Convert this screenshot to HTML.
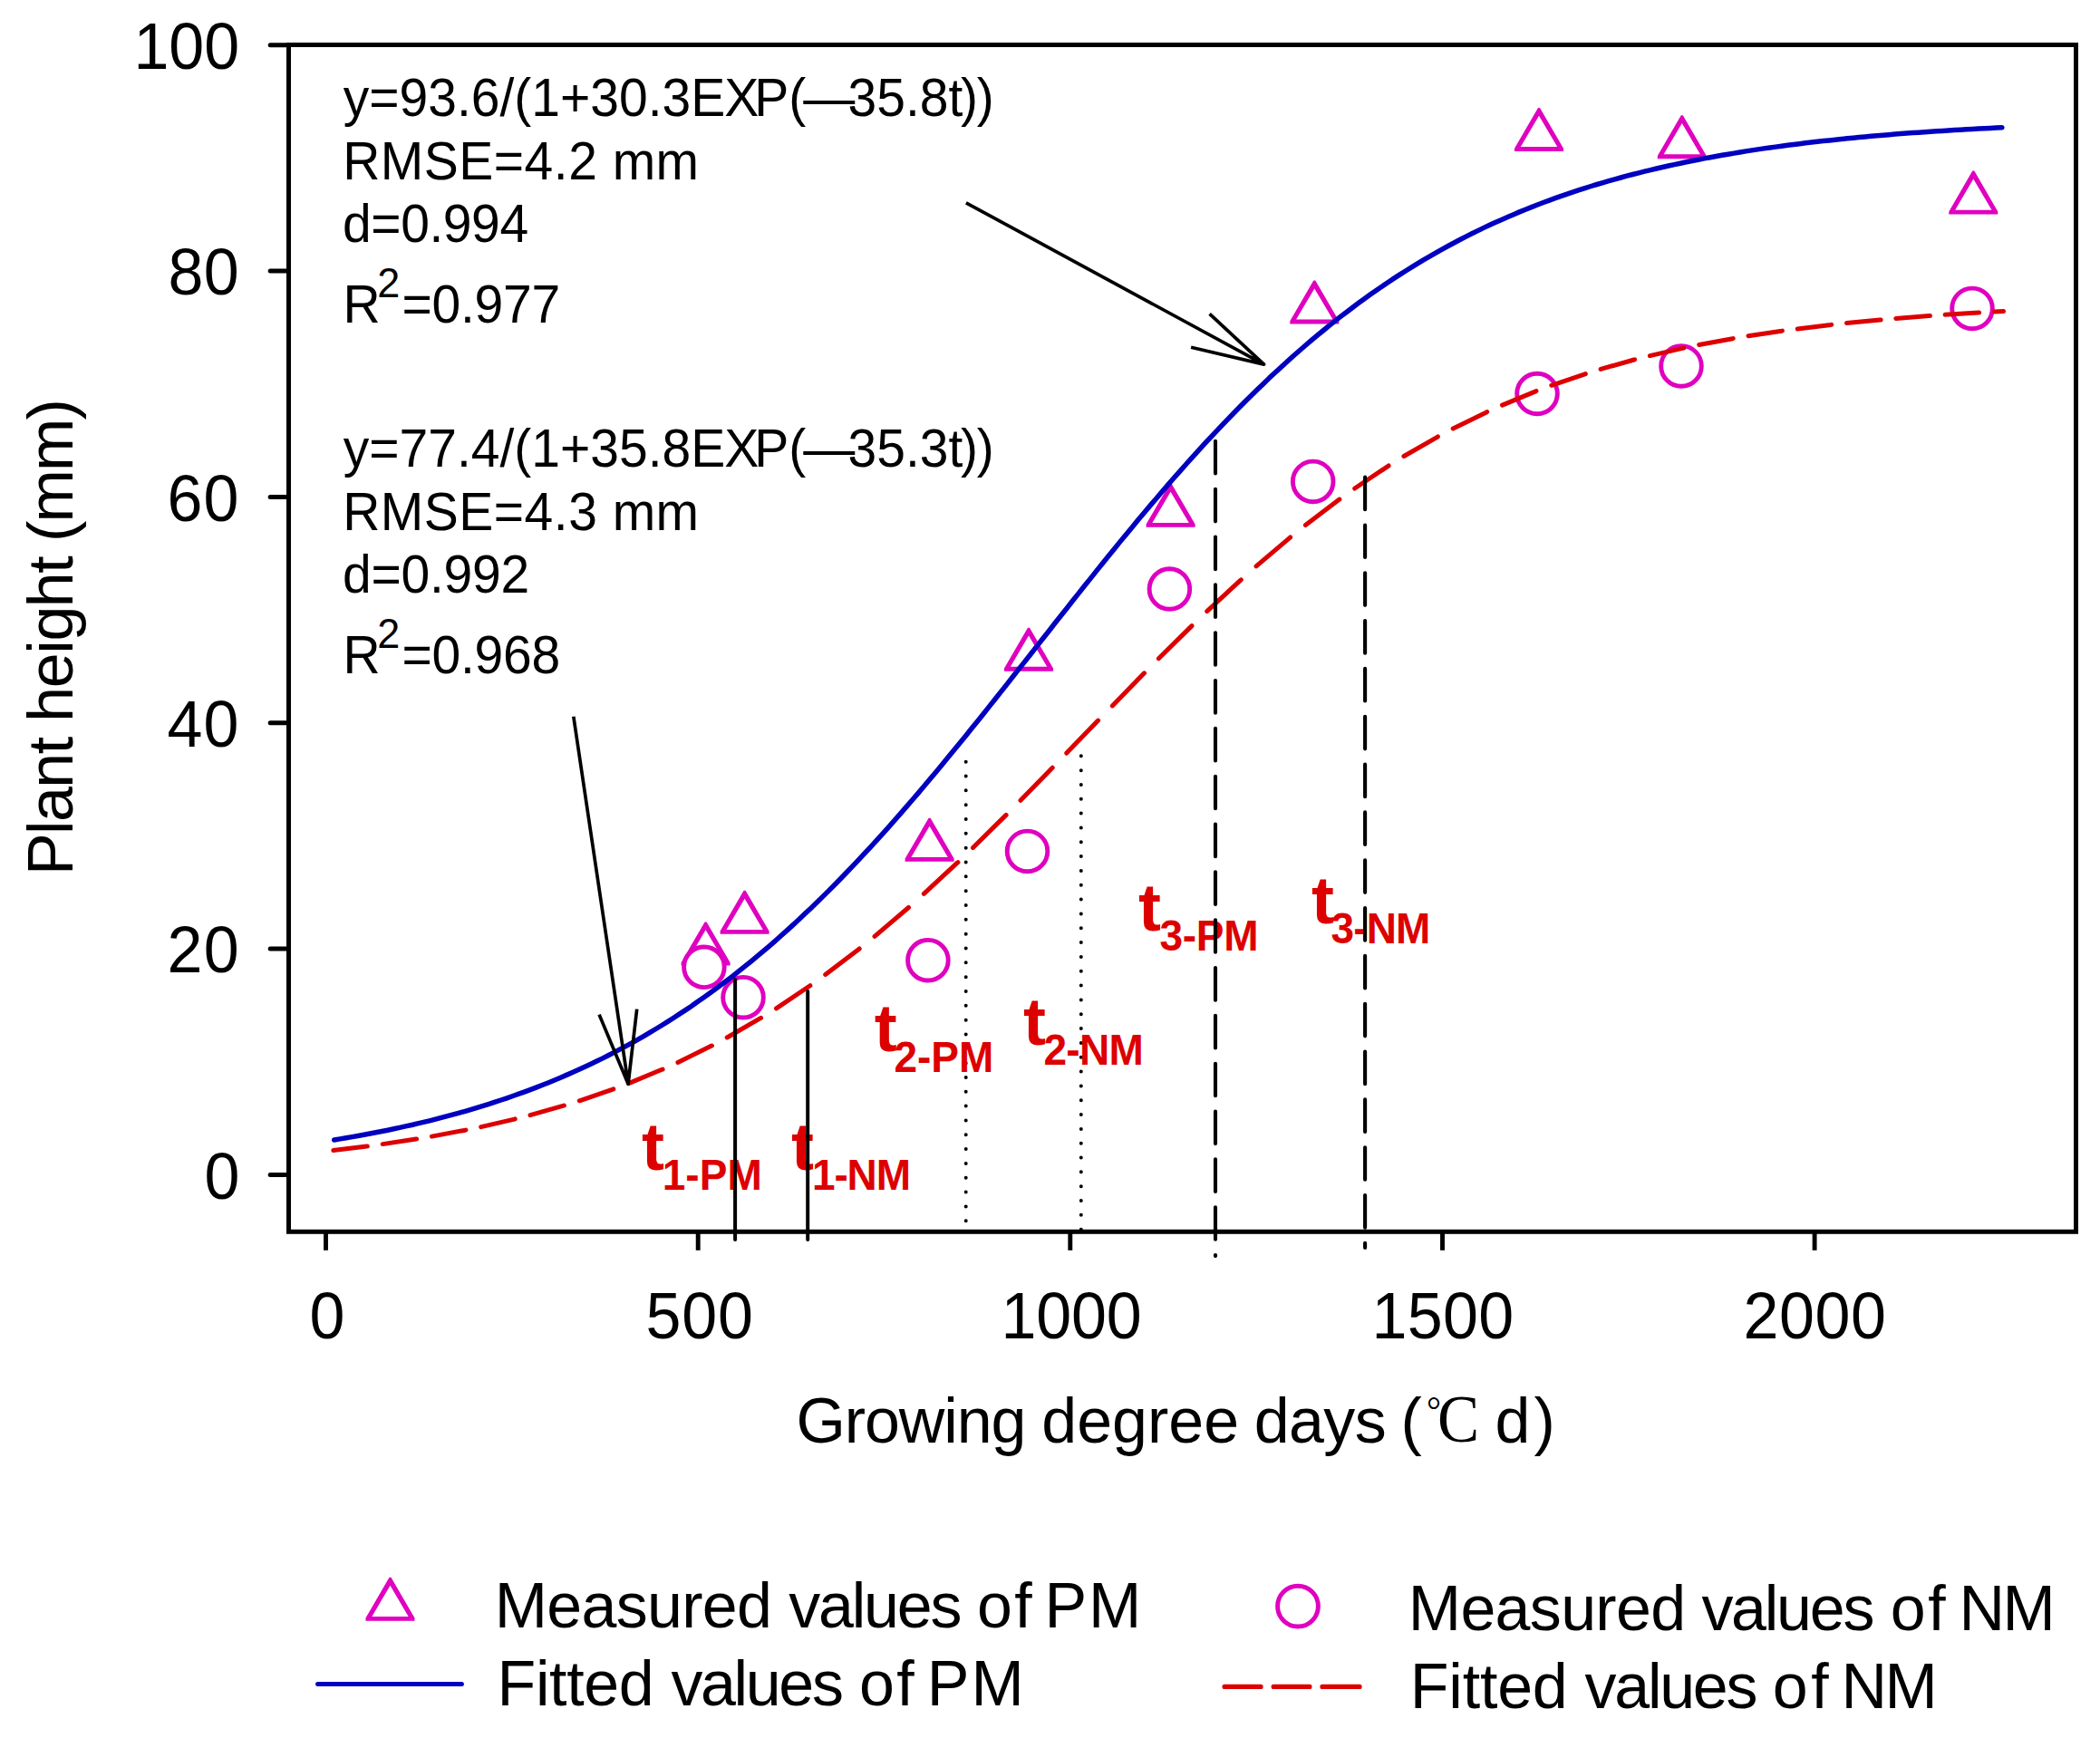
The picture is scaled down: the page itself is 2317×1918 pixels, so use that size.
<!DOCTYPE html>
<html lang="en"><head><meta charset="utf-8"><title>Plant height vs growing degree days</title>
<style>html,body{margin:0;padding:0;background:#fff}svg{display:block}text{font-family:"Liberation Sans","Noto Sans CJK SC",sans-serif;fill:#000}text.r{font-weight:bold;fill:#dd0000}text.sf{font-family:"Liberation Serif","Noto Serif CJK SC",serif}</style></head><body>
<svg width="2317" height="1918" viewBox="0 0 2317 1918">
<rect width="2317" height="1918" fill="#fff"/>
<rect x="318.5" y="49.5" width="1972.0" height="1309.8" fill="none" stroke="#000" stroke-width="5"/>
<g stroke="#000" stroke-width="5" stroke-linecap="round">
<line x1="298.2" y1="1296.4" x2="318.5" y2="1296.4"/>
<line x1="298.2" y1="1047.1" x2="318.5" y2="1047.1"/>
<line x1="298.2" y1="797.8" x2="318.5" y2="797.8"/>
<line x1="298.2" y1="548.4" x2="318.5" y2="548.4"/>
<line x1="298.2" y1="299.1" x2="318.5" y2="299.1"/>
<line x1="298.2" y1="49.8" x2="318.5" y2="49.8"/>
</g>
<g stroke="#000" stroke-width="4.9" stroke-linecap="butt">
<line x1="359.5" y1="1359.3" x2="359.5" y2="1379.8"/>
<line x1="770.2" y1="1359.3" x2="770.2" y2="1379.8"/>
<line x1="1180.8" y1="1359.3" x2="1180.8" y2="1379.8"/>
<line x1="1591.5" y1="1359.3" x2="1591.5" y2="1379.8"/>
<line x1="2002.1" y1="1359.3" x2="2002.1" y2="1379.8"/>
</g>
<text transform="translate(0 1322.7) scale(1 1.04)" font-size="70px"><tspan id="ty0_0" x="225.5">0</tspan></text>
<text transform="translate(0 1073.4) scale(1 1.04)" font-size="70px"><tspan id="ty20_0" x="184.5" textLength="79.1">20</tspan></text>
<text transform="translate(0 824.1) scale(1 1.04)" font-size="70px"><tspan id="ty40_0" x="184.5" textLength="79.0">40</tspan></text>
<text transform="translate(0 574.7) scale(1 1.04)" font-size="70px"><tspan id="ty60_0" x="184.5" textLength="78.9">60</tspan></text>
<text transform="translate(0 325.4) scale(1 1.04)" font-size="70px"><tspan id="ty80_0" x="185.5" textLength="78.2">80</tspan></text>
<text transform="translate(0 76.1) scale(1 1.04)" font-size="70px"><tspan id="ty100_0" x="147.5" textLength="116.6">100</tspan></text>
<text transform="translate(0 1477.3) scale(1 1.04)" font-size="70px"><tspan id="tx0_0" x="341.5">0</tspan></text>
<text transform="translate(0 1477.3) scale(1 1.04)" font-size="70px"><tspan id="tx500_0" x="712.5" textLength="118.4">500</tspan></text>
<text transform="translate(0 1477.3) scale(1 1.04)" font-size="70px"><tspan id="tx1000_0" x="1104.5" textLength="155.2">1000</tspan></text>
<text transform="translate(0 1477.3) scale(1 1.04)" font-size="70px"><tspan id="tx1500_0" x="1513.5" textLength="156.7">1500</tspan></text>
<text transform="translate(0 1477.3) scale(1 1.04)" font-size="70px"><tspan id="tx2000_0" x="1923.5" textLength="157.5">2000</tspan></text>
<text transform="translate(80.1 1000) rotate(-90) scale(1 1.015)" font-size="70px"><tspan id="yt0" x="34.0" textLength="153.1">Plant</tspan> <tspan id="yt1" x="203.3" textLength="183.5">height</tspan> <tspan id="yt2" x="402.0" textLength="157.8">(mm)</tspan></text>
<text transform="translate(0 1591.8) scale(1 1.015)" font-size="70px"><tspan id="xt0" x="878.4" textLength="254.0">Growing</tspan> <tspan id="xt1" x="1149.3" textLength="217.9">degree</tspan> <tspan id="xt2" x="1383.8" textLength="145.9">days</tspan> <tspan id="xt3" x="1545.5">(</tspan></text>
<text id="xtc" class="sf" transform="translate(1586 1591.3) scale(0.93 1)" font-size="74.4px"><tspan font-size="43px" x="-13" y="-21.4">°</tspan><tspan x="0" y="0">C</tspan></text>
<text transform="translate(0 1591.8) scale(1 1.015)" font-size="70px"><tspan id="xu0" x="1649.5">d</tspan> <tspan id="xu1" x="1692.5">)</tspan></text>
<g fill="#e000c0" fill-rule="evenodd" stroke="none">
<path d="M777.6 1017.4 L779.6 1017.4 L805.6 1062.2 L805.6 1065.4 L751.6 1065.4 L751.6 1062.2 Z M778.6 1026.3 L798.8 1060.5 L758.5 1060.5 Z"/>
<path d="M820.6 982.8 L822.6 982.8 L848.6 1027.6 L848.6 1030.8 L794.6 1030.8 L794.6 1027.6 Z M821.6 991.7 L841.8 1025.9 L801.5 1025.9 Z"/>
<path d="M1024.6 902.8 L1026.6 902.8 L1052.6 947.6 L1052.6 950.8 L998.6 950.8 L998.6 947.6 Z M1025.6 911.7 L1045.8 945.9 L1005.4 945.9 Z"/>
<path d="M1134.0 692.7 L1136.0 692.7 L1162.0 737.5 L1162.0 740.7 L1108.0 740.7 L1108.0 737.5 Z M1135.0 701.6 L1155.2 735.8 L1114.9 735.8 Z"/>
<path d="M1290.6 533.8 L1292.6 533.8 L1318.6 578.6 L1318.6 581.8 L1264.6 581.8 L1264.6 578.6 Z M1291.6 542.7 L1311.8 576.9 L1271.4 576.9 Z"/>
<path d="M1449.3 309.5 L1451.3 309.5 L1477.3 354.3 L1477.3 357.5 L1423.3 357.5 L1423.3 354.3 Z M1450.3 318.4 L1470.5 352.6 L1430.1 352.6 Z"/>
<path d="M1697.0 118.9 L1699.0 118.9 L1725.0 163.7 L1725.0 166.9 L1671.0 166.9 L1671.0 163.7 Z M1698.0 127.8 L1718.2 162.0 L1677.8 162.0 Z"/>
<path d="M1854.8 127.2 L1856.8 127.2 L1882.8 172.0 L1882.8 175.2 L1828.8 175.2 L1828.8 172.0 Z M1855.8 136.1 L1875.9 170.3 L1835.6 170.3 Z"/>
<path d="M2176.3 188.6 L2178.3 188.6 L2204.3 233.4 L2204.3 236.6 L2150.3 236.6 L2150.3 233.4 Z M2177.3 197.5 L2197.5 231.7 L2157.2 231.7 Z"/>
</g>
<g fill="#fff" stroke="#e000c0" stroke-width="4.9">
<circle cx="776.9" cy="1067.3" r="22.3"/>
<circle cx="820" cy="1100.7" r="22.3"/>
<circle cx="1023.9" cy="1059.7" r="22.3"/>
<circle cx="1133.5" cy="939.4" r="22.3"/>
<circle cx="1290.4" cy="650" r="22.3"/>
<circle cx="1448.7" cy="531.4" r="22.3"/>
<circle cx="1696" cy="434.5" r="22.3"/>
<circle cx="1855" cy="403.9" r="22.3"/>
<circle cx="2176" cy="340.4" r="22.3"/>
</g>
<path d="M368.7 1258.0 L375.3 1256.9 L381.9 1255.8 L388.5 1254.6 L395.0 1253.5 L401.6 1252.3 L408.2 1251.0 L414.7 1249.8 L421.3 1248.5 L427.9 1247.2 L434.5 1245.8 L441.0 1244.4 L447.6 1242.9 L454.2 1241.5 L460.8 1239.9 L467.3 1238.4 L473.9 1236.8 L480.5 1235.1 L487.0 1233.4 L493.6 1231.7 L500.2 1229.9 L506.8 1228.1 L513.3 1226.3 L519.9 1224.4 L526.5 1222.4 L533.0 1220.4 L539.6 1218.3 L546.2 1216.2 L552.8 1214.0 L559.3 1211.8 L565.9 1209.5 L572.5 1207.2 L579.0 1204.8 L585.6 1202.4 L592.2 1199.9 L598.8 1197.3 L605.3 1194.7 L611.9 1192.0 L618.5 1189.2 L625.0 1186.4 L631.6 1183.5 L638.2 1180.6 L644.8 1177.5 L651.3 1174.5 L657.9 1171.3 L664.5 1168.1 L671.1 1164.7 L677.6 1161.4 L684.2 1157.9 L690.8 1154.4 L697.3 1150.8 L703.9 1147.1 L710.5 1143.3 L717.1 1139.4 L723.6 1135.5 L730.2 1131.5 L736.8 1127.4 L743.3 1123.2 L749.9 1118.9 L756.5 1114.6 L763.1 1110.2 L769.6 1105.6 L776.2 1101.0 L782.8 1096.3 L789.3 1091.5 L795.9 1086.6 L802.5 1081.7 L809.1 1076.6 L815.6 1071.4 L822.2 1066.2 L828.8 1060.8 L835.3 1055.4 L841.9 1049.9 L848.5 1044.3 L855.1 1038.6 L861.6 1032.8 L868.2 1026.9 L874.8 1020.9 L881.4 1014.8 L887.9 1008.6 L894.5 1002.4 L901.1 996.0 L907.6 989.6 L914.2 983.1 L920.8 976.5 L927.4 969.8 L933.9 963.0 L940.5 956.1 L947.1 949.2 L953.6 942.2 L960.2 935.1 L966.8 927.9 L973.4 920.6 L979.9 913.3 L986.5 905.9 L993.1 898.4 L999.6 890.9 L1006.2 883.2 L1012.8 875.6 L1019.4 867.8 L1025.9 860.0 L1032.5 852.2 L1039.1 844.3 L1045.6 836.3 L1052.2 828.3 L1058.8 820.3 L1065.4 812.2 L1071.9 804.0 L1078.5 795.9 L1085.1 787.7 L1091.7 779.4 L1098.2 771.2 L1104.8 762.9 L1111.4 754.6 L1117.9 746.3 L1124.5 737.9 L1131.1 729.6 L1137.7 721.2 L1144.2 712.9 L1150.8 704.5 L1157.4 696.2 L1163.9 687.8 L1170.5 679.5 L1177.1 671.2 L1183.7 662.8 L1190.2 654.6 L1196.8 646.3 L1203.4 638.1 L1209.9 629.9 L1216.5 621.7 L1223.1 613.6 L1229.7 605.5 L1236.2 597.4 L1242.8 589.4 L1249.4 581.5 L1255.9 573.6 L1262.5 565.7 L1269.1 557.9 L1275.7 550.2 L1282.2 542.5 L1288.8 534.9 L1295.4 527.3 L1302.0 519.9 L1308.5 512.5 L1315.1 505.1 L1321.7 497.9 L1328.2 490.7 L1334.8 483.6 L1341.4 476.6 L1348.0 469.6 L1354.5 462.8 L1361.1 456.0 L1367.7 449.3 L1374.2 442.7 L1380.8 436.2 L1387.4 429.7 L1394.0 423.4 L1400.5 417.1 L1407.1 411.0 L1413.7 404.9 L1420.2 398.9 L1426.8 393.0 L1433.4 387.2 L1440.0 381.5 L1446.5 375.9 L1453.1 370.4 L1459.7 365.0 L1466.2 359.6 L1472.8 354.4 L1479.4 349.2 L1486.0 344.2 L1492.5 339.2 L1499.1 334.3 L1505.7 329.5 L1512.2 324.8 L1518.8 320.2 L1525.4 315.7 L1532.0 311.3 L1538.5 306.9 L1545.1 302.6 L1551.7 298.5 L1558.3 294.4 L1564.8 290.4 L1571.4 286.4 L1578.0 282.6 L1584.5 278.8 L1591.1 275.1 L1597.7 271.5 L1604.3 268.0 L1610.8 264.5 L1617.4 261.1 L1624.0 257.8 L1630.5 254.6 L1637.1 251.4 L1643.7 248.3 L1650.3 245.3 L1656.8 242.4 L1663.4 239.5 L1670.0 236.7 L1676.5 233.9 L1683.1 231.2 L1689.7 228.6 L1696.3 226.0 L1702.8 223.5 L1709.4 221.1 L1716.0 218.7 L1722.5 216.4 L1729.1 214.1 L1735.7 211.9 L1742.3 209.7 L1748.8 207.6 L1755.4 205.5 L1762.0 203.5 L1768.6 201.6 L1775.1 199.7 L1781.7 197.8 L1788.3 196.0 L1794.8 194.2 L1801.4 192.5 L1808.0 190.8 L1814.6 189.2 L1821.1 187.6 L1827.7 186.0 L1834.3 184.5 L1840.8 183.0 L1847.4 181.6 L1854.0 180.2 L1860.6 178.8 L1867.1 177.5 L1873.7 176.2 L1880.3 174.9 L1886.8 173.7 L1893.4 172.5 L1900.0 171.3 L1906.6 170.2 L1913.1 169.1 L1919.7 168.0 L1926.3 166.9 L1932.8 165.9 L1939.4 164.9 L1946.0 163.9 L1952.6 163.0 L1959.1 162.1 L1965.7 161.2 L1972.3 160.3 L1978.9 159.5 L1985.4 158.7 L1992.0 157.8 L1998.6 157.1 L2005.1 156.3 L2011.7 155.6 L2018.3 154.9 L2024.9 154.2 L2031.4 153.5 L2038.0 152.8 L2044.6 152.2 L2051.1 151.5 L2057.7 150.9 L2064.3 150.3 L2070.9 149.8 L2077.4 149.2 L2084.0 148.7 L2090.6 148.1 L2097.1 147.6 L2103.7 147.1 L2110.3 146.6 L2116.9 146.2 L2123.4 145.7 L2130.0 145.2 L2136.6 144.8 L2143.1 144.4 L2149.7 144.0 L2156.3 143.6 L2162.9 143.2 L2169.4 142.8 L2176.0 142.4 L2182.6 142.1 L2189.2 141.7 L2195.7 141.4 L2202.3 141.1 L2208.9 140.7" fill="none" stroke="#0000c0" stroke-width="5.5" stroke-linecap="round" stroke-linejoin="round"/>
<path d="M367.8 1269.4 L404.7 1264.9 L405.3 1264.9 M422.2 1262.6 L459.0 1257.0 L459.6 1256.9 M476.4 1254.1 L513.3 1247.2 L513.9 1247.0 M530.7 1243.6 L567.6 1235.1 L568.2 1234.9 M585.0 1230.6 L621.9 1220.2 L622.4 1220.0 M639.3 1214.8 L676.2 1202.1 L676.8 1201.9 M693.5 1195.6 L730.4 1180.3 L731.1 1180.1 M747.9 1172.5 L784.7 1154.3 L785.4 1154.0 M802.2 1145.0 L839.0 1123.7 L839.6 1123.3 M856.5 1112.8 L893.4 1088.0 L893.9 1087.7 M910.7 1075.6 L947.6 1047.5 L948.2 1047.0 M965.0 1033.4 L1001.9 1002.0 L1002.5 1001.4 M1019.3 986.4 L1056.2 952.2 L1056.9 951.6 M1073.5 935.5 L1110.1 899.4 M1126.0 883.3 L1161.2 847.2 M1176.8 831.1 L1211.6 795.1 M1227.3 778.9 L1262.5 742.8 M1278.4 726.7 L1315.0 690.6 M1331.7 674.6 L1368.6 640.4 L1369.3 639.8 M1386.0 624.9 L1422.9 593.6 L1423.6 593.0 M1440.4 579.5 L1477.2 551.4 L1477.9 551.0 M1494.7 539.0 L1531.6 514.3 L1532.1 514.0 M1548.9 503.5 L1585.8 482.3 L1586.4 481.9 M1603.2 473.0 L1640.1 454.9 L1640.7 454.6 M1657.5 447.1 L1694.4 431.9 L1695.0 431.6 M1711.8 425.3 L1748.7 412.8 L1749.3 412.6 M1766.1 407.4 L1802.9 397.0 L1803.6 396.8 M1820.4 392.6 L1857.2 384.1 L1857.9 384.0 M1874.7 380.5 L1911.6 373.7 L1912.2 373.5 M1929.0 370.7 L1965.9 365.2 L1966.4 365.1 M1983.2 362.9 L2020.1 358.4 L2020.7 358.3 M2037.5 356.5 L2074.4 352.9 L2075.1 352.9 M2091.8 351.4 L2128.7 348.5 L2129.4 348.5 M2146.1 347.3 L2183.0 345.1 L2183.6 345.0 M2200.4 344.1 L2210.5 343.6" fill="none" stroke="#dd0000" stroke-width="5.0" stroke-linecap="round" stroke-linejoin="round"/>
<g stroke="#000" fill="none" stroke-linecap="round" stroke-width="4" stroke-dasharray="0 15.83">
<line x1="1065.7" y1="840.7" x2="1065.7" y2="1348"/>
<line x1="1192.8" y1="834.3" x2="1192.8" y2="1357"/>
</g>
<text id="l1pt" transform="translate(708.0 1291.1) scale(1 1)" font-size="75px" class="r">t</text>
<text class="r" transform="translate(0 1313.0) scale(1 1.04)" font-size="46px"><tspan id="l1ps0" x="730.7" textLength="110.1">1-PM</tspan></text>
<text id="l1nt" transform="translate(873.0 1291.0) scale(1 1)" font-size="75px" class="r">t</text>
<text class="r" transform="translate(0 1313.0) scale(1 1.04)" font-size="46px"><tspan id="l1ns0" x="896.0" textLength="109.0">1-NM</tspan></text>
<text id="l2pt" transform="translate(964.8 1160.3) scale(1 1)" font-size="75px" class="r">t</text>
<text class="r" transform="translate(0 1183.0) scale(1 1.04)" font-size="46px"><tspan id="l2ps0" x="986.5" textLength="109.7">2-PM</tspan></text>
<text id="l2nt" transform="translate(1129.0 1152.5) scale(1 1)" font-size="75px" class="r">t</text>
<text class="r" transform="translate(0 1175.3) scale(1 1.04)" font-size="46px"><tspan id="l2ns0" x="1151.5" textLength="110.2">2-NM</tspan></text>
<text id="l3pt" transform="translate(1255.9 1026.8) scale(1 1)" font-size="75px" class="r">t</text>
<text class="r" transform="translate(0 1049.4) scale(1 1.04)" font-size="46px"><tspan id="l3ps0" x="1279.4" textLength="109.1">3-PM</tspan></text>
<text id="l3nt" transform="translate(1446.9 1018.7) scale(1 1)" font-size="75px" class="r">t</text>
<text class="r" transform="translate(0 1041.2) scale(1 1.04)" font-size="46px"><tspan id="l3ns0" x="1468.5" textLength="109.8">3-NM</tspan></text>
<g stroke="#000" fill="none" stroke-linecap="round">
<line x1="811.1" y1="1081.1" x2="811.1" y2="1368" stroke-width="4"/>
<line x1="891.2" y1="1094" x2="891.2" y2="1368" stroke-width="4"/>
<line x1="1341" y1="486.9" x2="1341" y2="1386.1" stroke-width="4.1" stroke-dasharray="35.6 17.23"/>
<line x1="1506.1" y1="526.6" x2="1506.1" y2="1376.9" stroke-width="4.1" stroke-dasharray="35.6 17.23"/>
</g>
<g fill="none" stroke="#000" stroke-width="3.7" stroke-linecap="butt" stroke-linejoin="round">
<path d="M1065.9 223.8 L1394.6 402.1 M1334.6 346.3 L1394.6 402.1 L1314.1 383.2"/>
<path d="M632.8 790.8 L693.1 1196.2 M661.1 1119.6 L693.1 1196.2 L702.7 1113.6"/>
</g>
<text id="an11" transform="translate(0 128.2) scale(1 1.04)" font-size="57px"><tspan x="378.8">y=93.6/(1+30.3E</tspan><tspan x="799.2">X</tspan><tspan x="832.2">P(</tspan><tspan x="886.2">—</tspan><tspan x="935.5">35.8t</tspan><tspan x="1059.9 1077.8">))</tspan></text>
<text transform="translate(0 198.2) scale(1 1.04)" font-size="57px"><tspan id="an120" x="378.2" textLength="392.9">RMSE=4.2 mm</tspan></text>
<text transform="translate(0 267.2) scale(1 1.04)" font-size="57px"><tspan id="an130" x="378.1" textLength="205.0">d=0.994</tspan></text>
<text id="an14" transform="translate(378.5 356.1) scale(1 1.04)" font-size="57px">R</text>
<text id="an14s" transform="translate(416.3 328.4) scale(1 1.04)" font-size="45px">2</text>
<text transform="translate(0 356.1) scale(1 1.04)" font-size="57px"><tspan id="an14v0" x="443.4" textLength="174.9">=0.977</tspan></text>
<text id="an21" transform="translate(0 514.7) scale(1 1.04)" font-size="57px"><tspan x="378.8">y=77.4/(1+35.8E</tspan><tspan x="799.2">X</tspan><tspan x="832.2">P(</tspan><tspan x="886.2">—</tspan><tspan x="935.5">35.3t</tspan><tspan x="1059.9 1077.8">))</tspan></text>
<text transform="translate(0 584.7) scale(1 1.04)" font-size="57px"><tspan id="an220" x="378.2" textLength="392.9">RMSE=4.3 mm</tspan></text>
<text transform="translate(0 653.7) scale(1 1.04)" font-size="57px"><tspan id="an230" x="378.1" textLength="206.0">d=0.992</tspan></text>
<text id="an24" transform="translate(378.5 742.6) scale(1 1.04)" font-size="57px">R</text>
<text id="an24s" transform="translate(416.3 714.9) scale(1 1.04)" font-size="45px">2</text>
<text transform="translate(0 742.6) scale(1 1.04)" font-size="57px"><tspan id="an24v0" x="443.4" textLength="174.9">=0.968</tspan></text>
<path d="M429.5 1740.8 L431.5 1740.8 L457.5 1785.6 L457.5 1788.8 L403.5 1788.8 L403.5 1785.6 Z M430.5 1749.7 L450.6 1783.9 L410.4 1783.9 Z" fill="#e000c0" fill-rule="evenodd"/>
<circle cx="1432" cy="1772.6" r="22.4" fill="none" stroke="#e000c0" stroke-width="4.9"/>
<line x1="350.6" y1="1858.5" x2="509.4" y2="1858.5" stroke="#0000c0" stroke-width="5" stroke-linecap="round"/>
<path d="M1351 1861.4 H1391.1 M1405.1 1861.4 H1445 M1458.9 1861.4 H1500.1" stroke="#dd0000" stroke-width="5.1" stroke-linecap="round" fill="none"/>
<text transform="translate(0 1796.0) scale(1 1.015)" font-size="70px"><tspan id="lmp0" x="545.7" textLength="306.2">Measured</tspan> <tspan id="lmp1" x="870.3" textLength="191.1">values</tspan> <tspan id="lmp2" x="1078.0" textLength="60.8">of</tspan> <tspan id="lmp3" x="1152.6" textLength="106.6">PM</tspan></text>
<text transform="translate(0 1882.0) scale(1 1.015)" font-size="70px"><tspan id="lfp0" x="548.6" textLength="173.1">Fitted</tspan> <tspan id="lfp1" x="740.4" textLength="190.5">values</tspan> <tspan id="lfp2" x="948.0" textLength="60.8">of</tspan> <tspan id="lfp3" x="1022.7" textLength="107.0">PM</tspan></text>
<text transform="translate(0 1799.0) scale(1 1.015)" font-size="70px"><tspan id="lmn0" x="1553.8" textLength="306.3">Measured</tspan> <tspan id="lmn1" x="1877.4" textLength="191.0">values</tspan> <tspan id="lmn2" x="2085.7" textLength="61.0">of</tspan> <tspan id="lmn3" x="2161.5" textLength="106.3">NM</tspan></text>
<text transform="translate(0 1885.0) scale(1 1.015)" font-size="70px"><tspan id="lfn0" x="1555.8" textLength="174.0">Fitted</tspan> <tspan id="lfn1" x="1748.6" textLength="190.8">values</tspan> <tspan id="lfn2" x="1955.7" textLength="62.0">of</tspan> <tspan id="lfn3" x="2031.5" textLength="106.3">NM</tspan></text>
</svg></body></html>
